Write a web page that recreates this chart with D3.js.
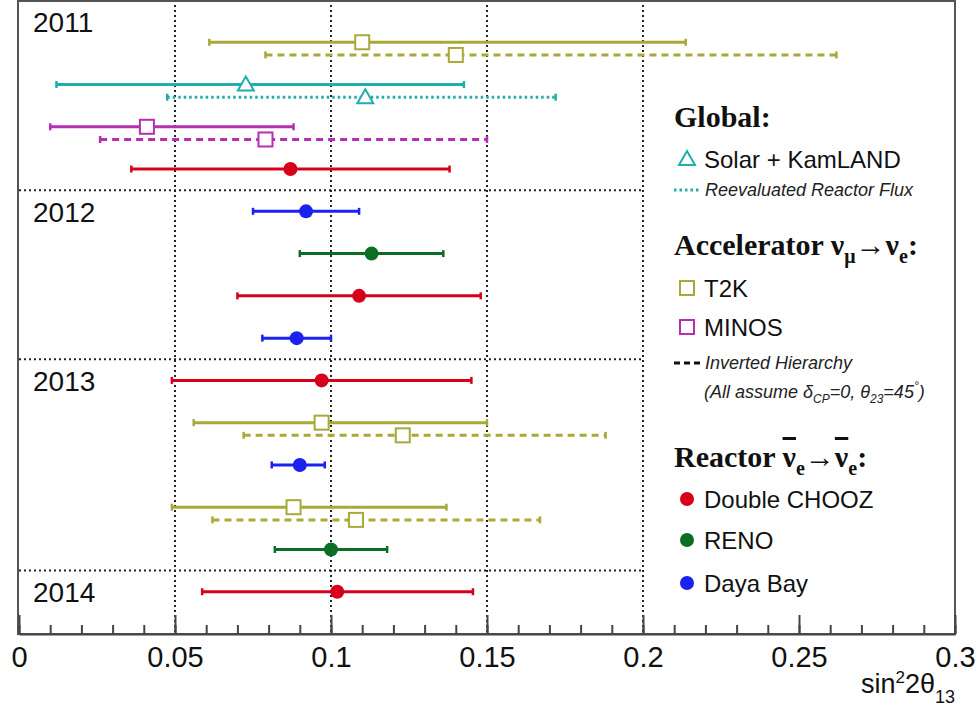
<!DOCTYPE html>
<html>
<head>
<meta charset="utf-8">
<script src="https://cdn.jsdelivr.net/npm/d3@7"></script>
<style>
  body { margin: 0; background: #fff; }
  svg { display: block; font-family: "Liberation Sans", Arial, sans-serif; }
</style>
</head>
<body>
<div id="chart"></div>
<script>
// measurements, top to bottom
const expts   = ["T2K", "T2K", "Solar + KamLAND", "Solar + KamLAND", "MINOS", "MINOS", "Double CHOOZ",
                 "Daya Bay", "RENO", "Double CHOOZ", "Daya Bay",
                 "Double CHOOZ", "T2K", "T2K", "Daya Bay", "T2K", "T2K", "RENO",
                 "Double CHOOZ"];
const variant = ["", "IH", "", "RRF", "", "IH", "",
                 "", "", "", "",
                 "", "", "IH", "", "", "IH", "",
                 ""];
const rows    = [14, 14, 13, 13, 12, 12, 11,
                 10, 9, 8, 7,
                 6, 5, 5, 4, 3, 3, 2,
                 1];
const central = [0.110, 0.140, 0.0727, 0.111, 0.041, 0.079, 0.087,
                 0.092, 0.113, 0.109, 0.089,
                 0.097, 0.097, 0.123, 0.090, 0.088, 0.108, 0.100,
                 0.102];
const lower   = [0.061, 0.079, 0.012, 0.0475, 0.010, 0.026, 0.036,
                 0.075, 0.090, 0.070, 0.078,
                 0.049, 0.056, 0.072, 0.081, 0.049, 0.062, 0.082,
                 0.0587];
const upper   = [0.2137, 0.262, 0.1426, 0.172, 0.088, 0.150, 0.138,
                 0.109, 0.136, 0.148, 0.100,
                 0.145, 0.150, 0.188, 0.098, 0.137, 0.167, 0.118,
                 0.1455];

const years      = ["2011", "2012", "2013", "2014"];
const yearTops   = [15, 10.5, 6.5, 1.5];
const breaks     = [10.5, 6.5, 1.5];
const gridX      = [0.05, 0.1, 0.15, 0.2];
const majorTicks = [0, 0.05, 0.1, 0.15, 0.2, 0.25, 0.3];
const minorTicks = d3.range(0, 31).map(i => i / 100);

const colors = {
  "T2K": "#a9a93a",
  "Solar + KamLAND": "#22adad",
  "MINOS": "#b42fb4",
  "Double CHOOZ": "#d7001a",
  "RENO": "#0b6e24",
  "Daya Bay": "#1a22ee"
};
const markers = {
  "T2K": "square", "MINOS": "square", "Solar + KamLAND": "triangle",
  "Double CHOOZ": "circle", "RENO": "circle", "Daya Bay": "circle"
};

const width = 979, height = 711;
const x = d3.scaleLinear().domain([0, 0.3]).range([19, 955]);
const y = d3.scaleLinear().domain([0, 15]).range([634, 0]);

const svg = d3.select("#chart").append("svg")
    .attr("width", width)
    .attr("height", height);

// grid
svg.append("g").selectAll("line").data(gridX).join("line")
    .attr("x1", d => x(d)).attr("x2", d => x(d))
    .attr("y1", y(15)).attr("y2", y(0))
    .attr("stroke", "#222").attr("stroke-width", 2)
    .attr("stroke-dasharray", "2,3");
svg.append("g").selectAll("line").data(breaks).join("line")
    .attr("x1", x(0)).attr("x2", x(0.2))
    .attr("y1", d => y(d)).attr("y2", d => y(d))
    .attr("stroke", "#222").attr("stroke-width", 2)
    .attr("stroke-dasharray", "2,3");

// year labels
svg.append("g").selectAll("text").data(years).join("text")
    .attr("x", 33)
    .attr("y", (d, i) => y(yearTops[i]) + 31.5)
    .attr("font-size", 28)
    .attr("fill", "#111")
    .text(d => d);

// error bars
const data = expts.map((e, i) => ({
  expt: e, variant: variant[i], row: rows[i],
  c: central[i], lo: lower[i], hi: upper[i]
}));
const yPos = d => y(d.row - (d.variant ? 0.3 : 0));

const bars = svg.append("g").selectAll("g").data(data).join("g");
bars.append("line")
    .attr("x1", d => x(d.lo)).attr("x2", d => x(d.hi))
    .attr("y1", yPos).attr("y2", yPos)
    .attr("stroke", d => colors[d.expt])
    .attr("stroke-width", 3)
    .attr("stroke-dasharray", d => d.variant === "IH" ? "7,5" : d.variant === "RRF" ? "2.5,3" : null);
bars.selectAll(".cap").data(d => [d.lo, d.hi].map(v => ({v, d}))).join("line")
    .attr("class", "cap")
    .attr("x1", e => x(e.v)).attr("x2", e => x(e.v))
    .attr("y1", e => yPos(e.d) - 3.5).attr("y2", e => yPos(e.d) + 3.5)
    .attr("stroke", e => colors[e.d.expt])
    .attr("stroke-width", 2.5);

function drawMarker(g, type, color, cx, cy) {
  if (type === "circle") {
    g.append("circle").attr("cx", cx).attr("cy", cy).attr("r", 7).attr("fill", color);
  } else if (type === "square") {
    g.append("rect").attr("x", cx - 7).attr("y", cy - 7).attr("width", 14).attr("height", 14)
        .attr("fill", "#fff").attr("stroke", color).attr("stroke-width", 2);
  } else {
    g.append("path").attr("d", `M${cx},${cy - 8}L${cx + 8},${cy + 6}L${cx - 8},${cy + 6}Z`)
        .attr("fill", "#fff").attr("stroke", color).attr("stroke-width", 2);
  }
}
bars.each(function(d) {
  drawMarker(d3.select(this), markers[d.expt], colors[d.expt], x(d.c), yPos(d));
});

// frame and axis
svg.append("rect")
    .attr("x", 18).attr("y", 1)
    .attr("width", 937).attr("height", 633)
    .attr("fill", "none").attr("stroke", "#555").attr("stroke-width", 2);

const minorAxis = svg.append("g")
    .attr("transform", `translate(0,${y(0)})`)
    .call(d3.axisBottom(x).tickValues(minorTicks).tickSize(-9).tickFormat(""));
minorAxis.select(".domain").remove();
minorAxis.selectAll("line").attr("stroke", "#444").attr("stroke-width", 2);

const xAxis = svg.append("g")
    .attr("transform", `translate(0,${y(0)})`)
    .call(d3.axisBottom(x).tickValues(majorTicks).tickSize(-19).tickSizeOuter(0)
        .tickPadding(12).tickFormat(d => String(+d.toFixed(2))));
xAxis.select(".domain").attr("stroke", "#444").attr("stroke-width", 2);
xAxis.selectAll("line").attr("stroke", "#444").attr("stroke-width", 2);
xAxis.selectAll("text")
    .attr("font-size", 29)
    .attr("fill", "#111")
    .attr("font-family", "'Liberation Sans', Arial, sans-serif");

const xTitle = svg.append("text")
    .attr("x", 955).attr("y", 693)
    .attr("text-anchor", "end")
    .attr("font-size", 27)
    .attr("fill", "#111");
xTitle.append("tspan").text("sin");
xTitle.append("tspan").attr("font-size", 17).attr("dy", -10).text("2");
xTitle.append("tspan").attr("dy", 10).text("2θ");
xTitle.append("tspan").attr("font-size", 18).attr("dy", 10).text("13");

// legend
const leg = svg.append("g");
const serif = "'Liberation Serif', 'Times New Roman', serif";

function heading(yy, parts) {
  const t = leg.append("text").attr("x", 674).attr("y", yy)
      .style("font-family", serif).attr("font-weight", "bold")
      .attr("font-size", 30).attr("fill", "#111");
  parts.forEach(p => {
    const s = t.append("tspan").text(p.t);
    if (p.sub) s.attr("font-size", 20).attr("dy", 8);
    if (p.up) s.attr("dy", -8);
    if (p.bar) s.style("text-decoration", "overline");
  });
}
function entry(yy, name) {
  drawMarker(leg, markers[name], colors[name], 687, yy);
  leg.append("text").attr("x", 704).attr("y", yy + 9)
      .attr("font-size", 24).attr("fill", "#111").text(name);
}
function lineEntry(yy, color, dash, label) {
  leg.append("line").attr("x1", 674).attr("x2", 701).attr("y1", yy).attr("y2", yy)
      .attr("stroke", color).attr("stroke-width", 3).attr("stroke-dasharray", dash);
  leg.append("text").attr("x", 705).attr("y", yy + 6)
      .attr("font-size", 18).attr("font-style", "italic").attr("fill", "#222").text(label);
}

heading(127, [{t: "Global:"}]);
entry(159, "Solar + KamLAND");
lineEntry(190, colors["Solar + KamLAND"], "2.5,3", "Reevaluated Reactor Flux");

heading(255, [{t: "Accelerator "}, {t: "ν"}, {t: "μ", sub: true}, {t: "→ν", up: true}, {t: "e", sub: true}, {t: ":", up: true}]);
entry(288, "T2K");
entry(327, "MINOS");
lineEntry(363, "#111", "6,4", "Inverted Hierarchy");

const note = leg.append("text").attr("x", 704).attr("y", 398)
    .attr("font-size", 18).attr("font-style", "italic").attr("fill", "#222");
note.append("tspan").text("(All assume δ");
note.append("tspan").attr("font-size", 12).attr("dy", 5).text("CP");
note.append("tspan").attr("dy", -5).text("=0, θ");
note.append("tspan").attr("font-size", 12).attr("dy", 5).text("23");
note.append("tspan").attr("dy", -5).text("=45");
note.append("tspan").attr("font-size", 12).attr("dy", -8).text("°");
note.append("tspan").attr("dy", 8).text(")");

heading(467, [{t: "Reactor "}, {t: "ν", bar: true}, {t: "e", sub: true}, {t: "→", up: true}, {t: "ν", bar: true}, {t: "e", sub: true}, {t: ":", up: true}]);
entry(499, "Double CHOOZ");
entry(540, "RENO");
entry(583, "Daya Bay");
</script>
</body>
</html>
